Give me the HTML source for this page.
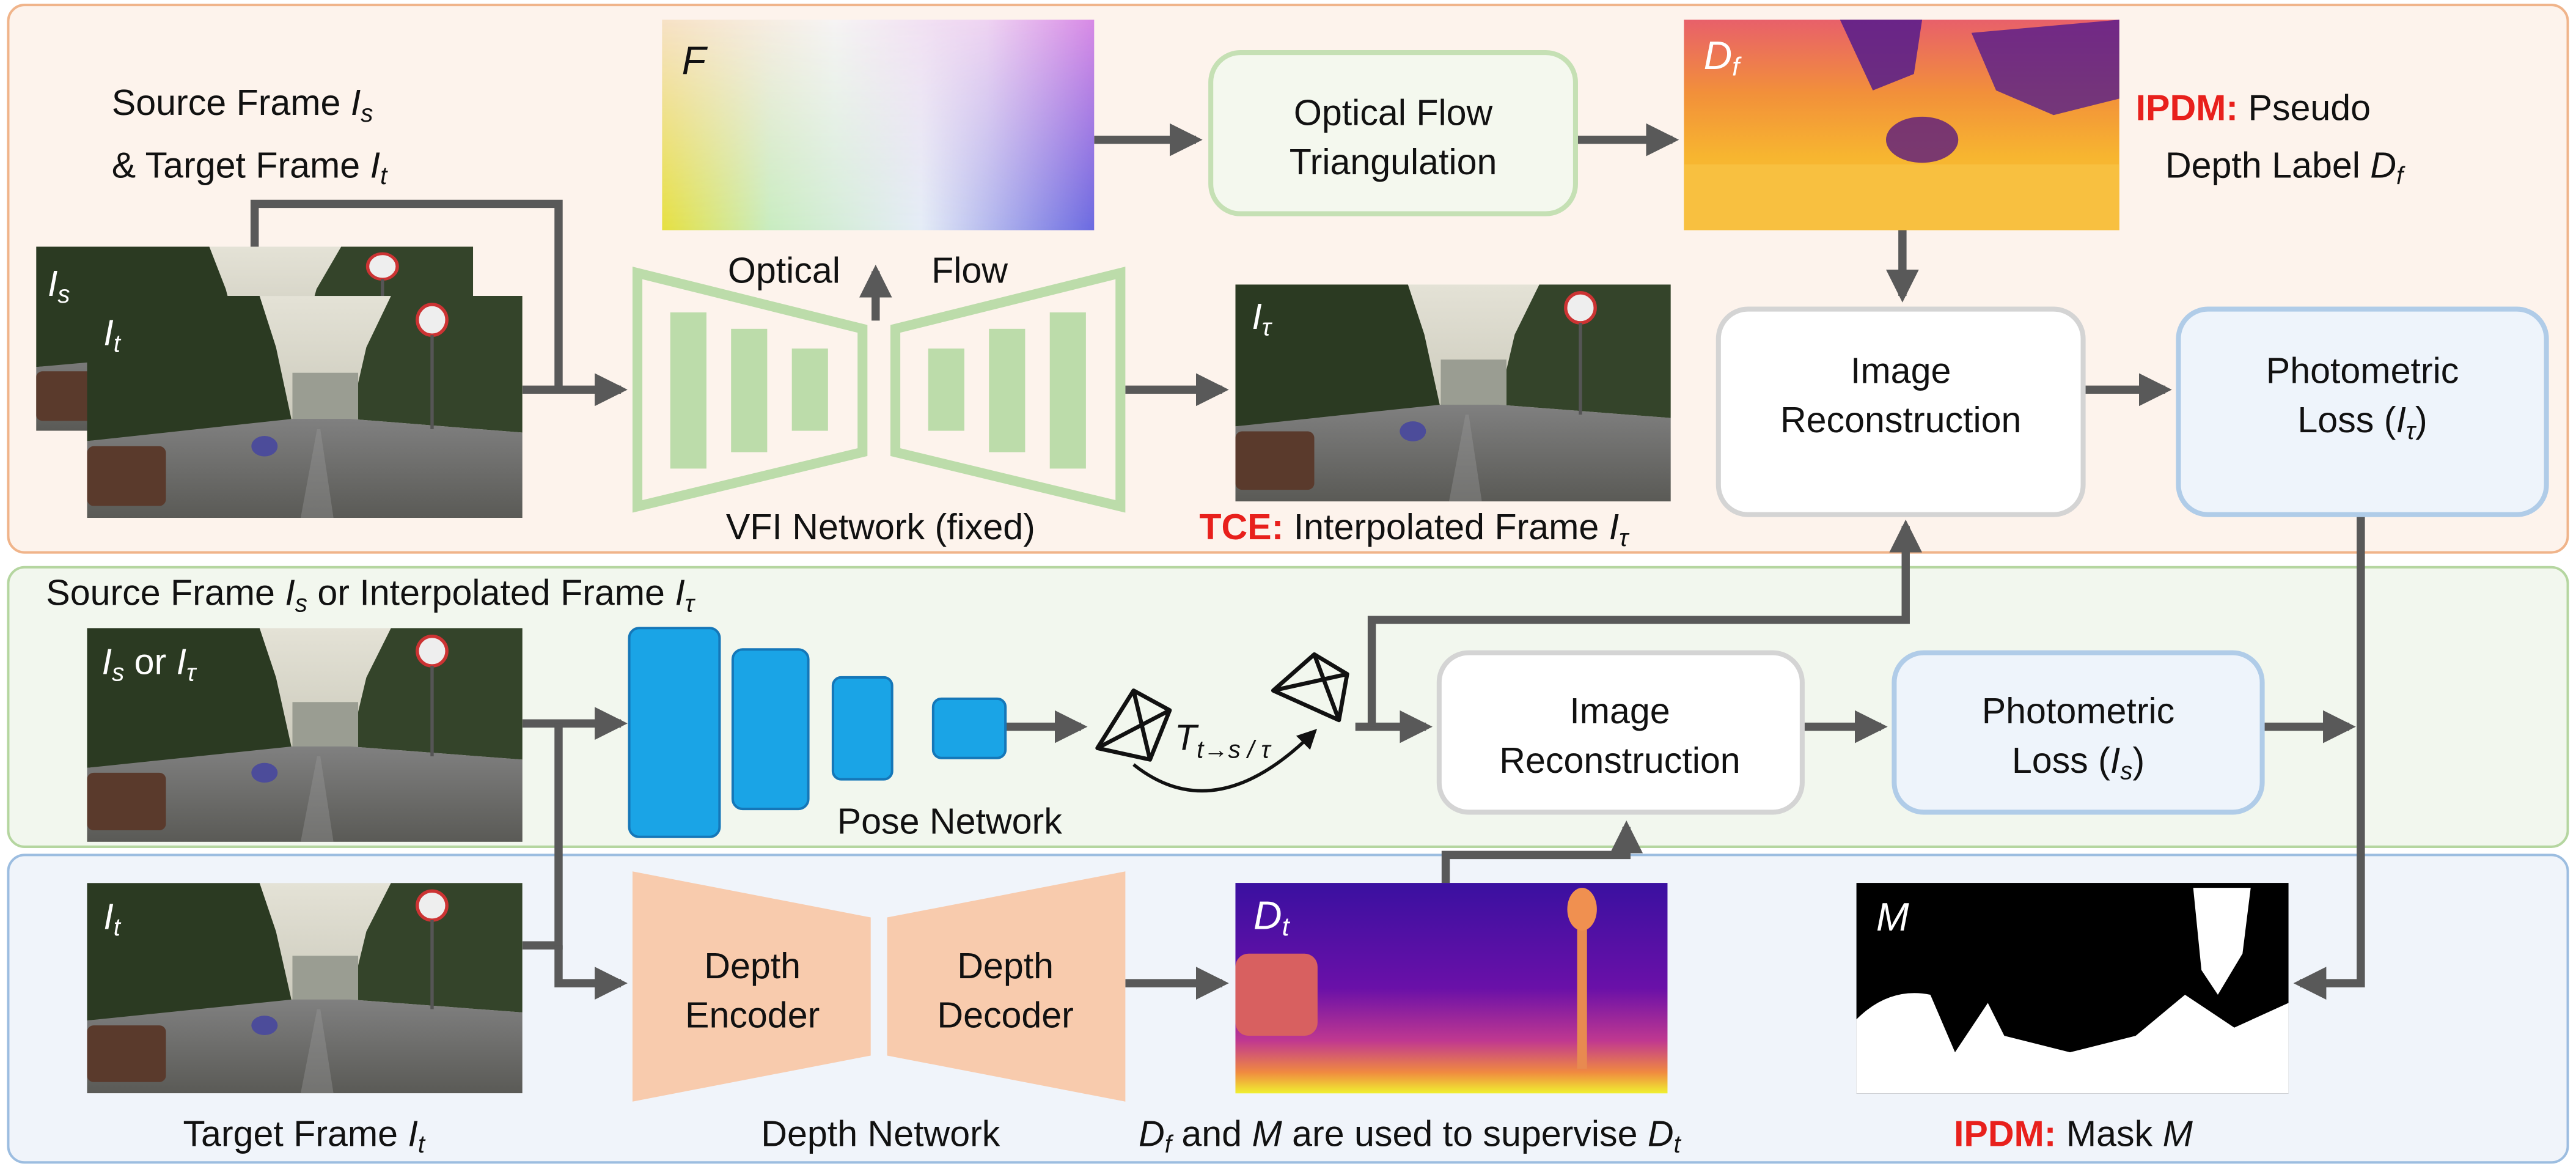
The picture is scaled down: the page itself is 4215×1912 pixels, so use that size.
<!DOCTYPE html>
<html><head><meta charset="utf-8"><style>
html,body{margin:0;padding:0;background:#fff}
svg{display:block}
text{font-family:"Liberation Sans",Arial,sans-serif;fill:#111}
</style></head><body>
<svg width="4215" height="1912" viewBox="0 0 1568 711" preserveAspectRatio="none" xmlns="http://www.w3.org/2000/svg">
<defs>
<marker id="ah" viewBox="0 0 10 10" refX="8" refY="5" markerWidth="4" markerHeight="4" orient="auto" markerUnits="strokeWidth"><path d="M0,0 L10,5 L0,10 z" fill="#595959"/></marker>
<marker id="ahs" viewBox="0 0 10 10" refX="8" refY="5" markerWidth="6" markerHeight="6" orient="auto" markerUnits="strokeWidth"><path d="M0,0 L10,5 L0,10 z" fill="#111"/></marker>
<linearGradient id="sky" x1="0" y1="0" x2="0" y2="1"><stop offset="0" stop-color="#e4e2d6"/><stop offset="1" stop-color="#b9b8a8"/></linearGradient>
<linearGradient id="road" x1="0" y1="0" x2="0" y2="1"><stop offset="0" stop-color="#808080"/><stop offset="1" stop-color="#5a5a56"/></linearGradient>
<symbol id="photo" viewBox="0 0 265 130" preserveAspectRatio="none">
<rect width="265" height="130" fill="url(#sky)"/>
<path d="M0,0 L105,0 L115,30 L125,75 L0,85 z" fill="#2b3a22"/>
<path d="M185,0 L265,0 L265,80 L160,72 L170,30 z" fill="#34442a"/>
<rect x="125" y="45" width="40" height="28" fill="#9a9d92"/>
<path d="M0,85 L125,72 L160,72 L265,80 L265,130 L0,130 z" fill="url(#road)"/>
<path d="M130,130 L140,78 L142,78 L150,130z" fill="#999" opacity="0.4"/>
<rect x="0" y="88" width="48" height="35" rx="4" fill="#5a3a2c"/>
<ellipse cx="108" cy="88" rx="8" ry="6" fill="#4c4c9a"/>
<circle cx="210" cy="14" r="9" fill="#eee" stroke="#c33" stroke-width="2"/>
<rect x="209" y="23" width="2" height="55" fill="#555"/>
</symbol>
<linearGradient id="fg" x1="0" y1="0" x2="1" y2="0"><stop offset="0" stop-color="#f7e2c6"/><stop offset="0.4" stop-color="#f6f4f4"/><stop offset="0.75" stop-color="#efd4f2"/><stop offset="1" stop-color="#d88ae6"/></linearGradient>
<linearGradient id="fg2" x1="0" y1="0" x2="1" y2="0"><stop offset="0" stop-color="#e6e040"/><stop offset="0.25" stop-color="#c8ecc0"/><stop offset="0.6" stop-color="#e4ecf6"/><stop offset="1" stop-color="#6a6ae0"/></linearGradient>
<linearGradient id="fmask" x1="0" y1="0" x2="0" y2="1"><stop offset="0" stop-color="#fff" stop-opacity="0"/><stop offset="1" stop-color="#fff" stop-opacity="1"/></linearGradient>
<mask id="fm"><rect x="403" y="12" width="263" height="128" fill="url(#fmask)"/></mask>
<linearGradient id="dfg" x1="0" y1="0" x2="0" y2="1"><stop offset="0" stop-color="#e8606a"/><stop offset="0.35" stop-color="#f2903a"/><stop offset="0.65" stop-color="#f7b530"/><stop offset="1" stop-color="#f6c53a"/></linearGradient>
<linearGradient id="dtg" x1="0" y1="0" x2="0" y2="1"><stop offset="0" stop-color="#3a10a0"/><stop offset="0.5" stop-color="#6a10a8"/><stop offset="0.75" stop-color="#c03890"/><stop offset="0.9" stop-color="#f08a40"/><stop offset="1" stop-color="#f0f030"/></linearGradient>
</defs>

<rect x="5" y="3" width="1558" height="333" rx="10" fill="#fdf3ec" stroke="#f0b48a" stroke-width="1.5"/>
<rect x="5" y="345" width="1558" height="170" rx="10" fill="#f2f7ee" stroke="#b5d6a0" stroke-width="1.5"/>
<rect x="5" y="520" width="1558" height="187" rx="10" fill="#f0f4fa" stroke="#9cbde0" stroke-width="1.5"/>

<g stroke="#595959" stroke-width="5" fill="none">
<polyline points="155,180 155,124 340,124 340,237 378,237" marker-end="url(#ah)"/>
<line x1="318" y1="237" x2="340" y2="237"/>
<line x1="533" y1="195" x2="533" y2="165" marker-end="url(#ah)"/>
<line x1="666" y1="85" x2="728" y2="85" marker-end="url(#ah)"/>
<line x1="960" y1="85" x2="1018" y2="85" marker-end="url(#ah)"/>
<line x1="1158" y1="140" x2="1158" y2="180" marker-end="url(#ah)"/>
<line x1="1268" y1="237" x2="1318" y2="237" marker-end="url(#ah)"/>
<line x1="685" y1="237" x2="744" y2="237" marker-end="url(#ah)"/>
<line x1="318" y1="440" x2="378" y2="440" marker-end="url(#ah)"/>
<polyline points="318,575 340,575 340,440"/>
<line x1="612" y1="442" x2="658" y2="442" marker-end="url(#ah)"/>
<line x1="825" y1="442" x2="868" y2="442" marker-end="url(#ah)"/>
<polyline points="835,442 835,377 1160,377 1160,320" marker-end="url(#ah)"/>
<line x1="1097" y1="442" x2="1145" y2="442" marker-end="url(#ah)"/>
<line x1="1377" y1="442" x2="1430" y2="442" marker-end="url(#ah)"/>
<polyline points="1437,290 1437,598 1400,598" marker-end="url(#ah)"/>
<polyline points="340,575 340,598 378,598" marker-end="url(#ah)"/>
<line x1="685" y1="598" x2="744" y2="598" marker-end="url(#ah)"/>
<polyline points="880,537 880,520 990,520 990,503" marker-end="url(#ah)"/>
</g>

<svg x="22" y="150" width="266" height="112"><use href="#photo" width="266" height="112"/></svg>
<svg x="53" y="180" width="265" height="135"><use href="#photo" width="265" height="135"/></svg>
<text x="29" y="180" font-size="22" font-style="italic" style="fill:#fff">I<tspan font-size="15" dy="4">s</tspan></text>
<text x="63" y="210" font-size="22" font-style="italic" style="fill:#fff">I<tspan font-size="15" dy="4">t</tspan></text>
<text x="68" y="70" font-size="22">Source Frame <tspan font-style="italic">I</tspan><tspan font-style="italic" font-size="15" dy="4">s</tspan></text>
<text x="68" y="108" font-size="22">&amp; Target Frame <tspan font-style="italic">I</tspan><tspan font-style="italic" font-size="15" dy="4">t</tspan></text>

<rect x="403" y="12" width="263" height="128" fill="url(#fg)"/>
<rect x="403" y="12" width="263" height="128" fill="url(#fg2)" mask="url(#fm)"/>
<text x="415" y="45" font-size="24" font-style="italic">F</text>

<g fill="none" stroke="#bcdcaa" stroke-width="6">
<polygon points="388,166 525,200 525,275 388,308"/>
<polygon points="682,166 545,200 545,275 682,308"/>
</g>
<g fill="#bcdcaa">
<rect x="408" y="190" width="22" height="95"/><rect x="445" y="200" width="22" height="75"/><rect x="482" y="212" width="22" height="50"/>
<rect x="565" y="212" width="22" height="50"/><rect x="602" y="200" width="22" height="75"/><rect x="639" y="190" width="22" height="95"/>
</g>
<text x="443" y="172" font-size="22">Optical</text>
<text x="567" y="172" font-size="22">Flow</text>
<text x="536" y="328" font-size="22" text-anchor="middle">VFI Network (fixed)</text>

<rect x="737" y="32" width="222" height="98" rx="18" fill="#f4f8ee" stroke="#c5e0b4" stroke-width="3"/>
<text x="848" y="76" font-size="22" text-anchor="middle">Optical Flow</text>
<text x="848" y="106" font-size="22" text-anchor="middle">Triangulation</text>

<rect x="1025" y="12" width="265" height="128" fill="url(#dfg)"/>
<path d="M1120,12 L1170,12 L1165,45 L1140,55z" fill="#4a1590" opacity="0.8"/>
<path d="M1200,20 L1290,12 L1290,60 L1250,70 L1215,55z" fill="#4a1590" opacity="0.75"/>
<ellipse cx="1170" cy="85" rx="22" ry="14" fill="#5a1a80" opacity="0.8"/>
<rect x="1025" y="100" width="265" height="40" fill="#f8c040"/>
<text x="1037" y="42" font-size="24" font-style="italic" style="fill:#fff">D<tspan font-size="16" dy="4">f</tspan></text>
<text x="1300" y="73" font-size="22"><tspan font-weight="bold" style="fill:#e8201c">IPDM:</tspan> Pseudo</text>
<text x="1318" y="108" font-size="22">Depth Label <tspan font-style="italic">D</tspan><tspan font-style="italic" font-size="15" dy="4">f</tspan></text>

<rect x="1046" y="188" width="222" height="125" rx="18" fill="#fff" stroke="#d4d4d4" stroke-width="3"/>
<text x="1157" y="233" font-size="22" text-anchor="middle">Image</text>
<text x="1157" y="263" font-size="22" text-anchor="middle">Reconstruction</text>
<rect x="1326" y="188" width="224" height="125" rx="18" fill="#eef4fb" stroke="#b0cce8" stroke-width="3"/>
<text x="1438" y="233" font-size="22" text-anchor="middle">Photometric</text>
<text x="1438" y="263" font-size="22" text-anchor="middle">Loss (<tspan font-style="italic">I</tspan><tspan font-style="italic" font-size="15" dy="4">τ</tspan><tspan dy="-4">)</tspan></text>

<svg x="752" y="173" width="265" height="132"><use href="#photo" width="265" height="132"/></svg>
<text x="762" y="200" font-size="22" font-style="italic" style="fill:#fff">I<tspan font-size="15" dy="4">τ</tspan></text>
<text x="730" y="328" font-size="22"><tspan font-weight="bold" style="fill:#e8201c">TCE:</tspan> Interpolated Frame <tspan font-style="italic">I</tspan><tspan font-style="italic" font-size="15" dy="4">τ</tspan></text>

<text x="28" y="368" font-size="22">Source Frame <tspan font-style="italic">I</tspan><tspan font-style="italic" font-size="15" dy="4">s</tspan><tspan dy="-4"> or Interpolated Frame </tspan><tspan font-style="italic">I</tspan><tspan font-style="italic" font-size="15" dy="4">τ</tspan></text>
<svg x="53" y="382" width="265" height="130"><use href="#photo" width="265" height="130"/></svg>
<text x="62" y="410" font-size="22" style="fill:#fff"><tspan font-style="italic">I</tspan><tspan font-style="italic" font-size="15" dy="4">s</tspan><tspan dy="-4"> or </tspan><tspan font-style="italic">I</tspan><tspan font-style="italic" font-size="15" dy="4">τ</tspan></text>
<g fill="#1aa4e6" stroke="#1577b8" stroke-width="1.5">
<rect x="383" y="382" width="55" height="127" rx="6"/>
<rect x="446" y="395" width="46" height="97" rx="6"/>
<rect x="507" y="412" width="36" height="62" rx="5"/>
<rect x="568" y="425" width="44" height="36" rx="5"/>
</g>
<text x="578" y="507" font-size="22" text-anchor="middle">Pose Network</text>
<g fill="none" stroke="#111" stroke-width="2.5" stroke-linejoin="round">
<path d="M668,455 L690,420 L712,432 L700,462 z M690,420 L700,462 M668,455 L712,432"/>
<path d="M775,420 L800,398 L820,410 L815,438 z M800,398 L815,438 M775,420 L820,410"/>
</g>
<text x="715" y="456" font-size="22" font-style="italic">T<tspan font-size="15" dy="5">t→s / τ</tspan></text>
<path d="M690,465 Q740,505 800,445" fill="none" stroke="#111" stroke-width="2" marker-end="url(#ahs)"/>
<rect x="876" y="397" width="221" height="97" rx="18" fill="#fff" stroke="#d4d4d4" stroke-width="3"/>
<text x="986" y="440" font-size="22" text-anchor="middle">Image</text>
<text x="986" y="470" font-size="22" text-anchor="middle">Reconstruction</text>
<rect x="1153" y="397" width="224" height="97" rx="18" fill="#eef4fb" stroke="#b0cce8" stroke-width="3"/>
<text x="1265" y="440" font-size="22" text-anchor="middle">Photometric</text>
<text x="1265" y="470" font-size="22" text-anchor="middle">Loss (<tspan font-style="italic">I</tspan><tspan font-style="italic" font-size="15" dy="4">s</tspan><tspan dy="-4">)</tspan></text>

<svg x="53" y="537" width="265" height="128"><use href="#photo" width="265" height="128"/></svg>
<text x="63" y="565" font-size="22" font-style="italic" style="fill:#fff">I<tspan font-size="15" dy="4">t</tspan></text>
<text x="185" y="697" font-size="22" text-anchor="middle">Target Frame <tspan font-style="italic">I</tspan><tspan font-style="italic" font-size="15" dy="4">t</tspan></text>
<g fill="#f8cbad">
<polygon points="385,530 530,558 530,642 385,670"/>
<polygon points="685,530 540,558 540,642 685,670"/>
</g>
<text x="458" y="595" font-size="22" text-anchor="middle">Depth</text>
<text x="458" y="625" font-size="22" text-anchor="middle">Encoder</text>
<text x="612" y="595" font-size="22" text-anchor="middle">Depth</text>
<text x="612" y="625" font-size="22" text-anchor="middle">Decoder</text>
<text x="536" y="697" font-size="22" text-anchor="middle">Depth Network</text>
<rect x="752" y="537" width="263" height="128" fill="url(#dtg)"/>
<rect x="752" y="580" width="50" height="50" rx="8" fill="#d86060"/>
<rect x="960" y="545" width="6" height="105" fill="#e88a50"/>
<ellipse cx="963" cy="553" rx="9" ry="13" fill="#f09050"/>
<text x="763" y="565" font-size="24" font-style="italic" style="fill:#fff">D<tspan font-size="16" dy="4">t</tspan></text>
<text x="858" y="697" font-size="22" font-style="italic" text-anchor="middle">D<tspan font-size="15" dy="4">f</tspan><tspan dy="-4" font-style="normal"> and </tspan>M<tspan font-style="normal"> are used to supervise </tspan>D<tspan font-size="15" dy="4">t</tspan></text>
<rect x="1130" y="537" width="263" height="128" fill="#000"/>
<path d="M1130,620 Q1150,600 1175,605 L1190,640 L1210,610 L1220,630 L1260,640 L1300,630 L1330,605 L1360,625 L1393,610 L1393,665 L1130,665z" fill="#fff"/>
<path d="M1335,540 L1370,540 L1365,580 L1350,605 L1340,590z" fill="#fff"/>
<text x="1142" y="566" font-size="24" font-style="italic" style="fill:#fff">M</text>
<text x="1262" y="697" font-size="22" text-anchor="middle"><tspan font-weight="bold" style="fill:#e8201c">IPDM:</tspan> Mask <tspan font-style="italic">M</tspan></text>
</svg>
</body></html>
